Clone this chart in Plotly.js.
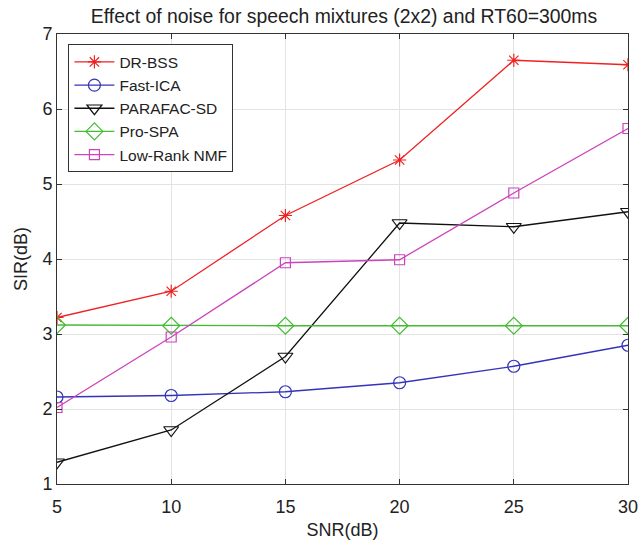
<!DOCTYPE html>
<html>
<head>
<meta charset="utf-8">
<script src="https://cdn.plot.ly/plotly-3.0.1.min.js"></script>
<style>
  html, body { margin: 0; padding: 0; background: #fff; }
  #chart { width: 640px; height: 540px; }
</style>
</head>
<body>
<div id="chart"></div>
<script>
// SNR levels (dB) on the x axis
const snr = [5, 10, 15, 20, 25, 30];
const sirTicks = [1, 2, 3, 4, 5, 6, 7];

// SIR (dB) for each separation method
const drBss     = [3.22, 3.57, 4.58, 5.32, 6.65, 6.59];
const fastIca   = [2.16, 2.18, 2.23, 2.35, 2.57, 2.85];
const parafacSd = [1.29, 1.72, 2.70, 4.48, 4.43, 4.63];
const proSpa    = [3.12, 3.11, 3.11, 3.11, 3.11, 3.11];
const lowRankNmf= [2.02, 2.96, 3.95, 3.99, 4.88, 5.74];

const seriesNames = ['DR-BSS', 'Fast-ICA', 'PARAFAC-SD', 'Pro-SPA', 'Low-Rank NMF'];

const FONT = 'Liberation Sans, Arial, sans-serif';

function line(name, y, color, symbol, size) {
  return {
    x: snr, y: y, name: name, type: 'scatter', mode: 'lines+markers',
    line: { color: color, width: 1.3 },
    marker: { symbol: symbol, size: size, color: color, line: { color: color, width: 1.2 } }
  };
}

const traces = [
  line(seriesNames[0], drBss,      '#ee2222', 'asterisk-open',      11),
  line(seriesNames[1], fastIca,    '#3333bb', 'circle-open',        12),
  line(seriesNames[2], parafacSd,  '#111111', 'triangle-down-open', 13),
  line(seriesNames[3], proSpa,     '#44bb33', 'diamond-open',       13),
  line(seriesNames[4], lowRankNmf, '#cc44bb', 'square-open',        10)
];

const axisCommon = {
  showline: true, linecolor: '#333', linewidth: 1, mirror: 'ticks',
  ticks: 'inside', ticklen: 5, tickcolor: '#333',
  showgrid: true, gridcolor: '#e3e3e3', gridwidth: 1,
  zeroline: false, automargin: false,
  tickfont: { family: FONT, size: 18, color: '#222' }
};

const layout = {
  width: 640, height: 540,
  margin: { l: 57, r: 12, t: 34, b: 56 },
  paper_bgcolor: '#fff', plot_bgcolor: '#fff',
  title: {
    text: 'Effect of noise for speech mixtures (2x2) and RT60=300ms',
    font: { family: FONT, size: 19.4, color: '#222' },
    xref: 'container', x: 344 / 640, xanchor: 'center',
    yref: 'container', y: 1 - 16 / 540, yanchor: 'middle'
  },
  xaxis: Object.assign({}, axisCommon, {
    range: [5, 30], tickvals: snr, ticktext: snr.map(String),
    ticklabelstandoff: 6,
    title: { text: 'SNR(dB)', font: { family: FONT, size: 18, color: '#222' }, standoff: 8 }
  }),
  yaxis: Object.assign({}, axisCommon, {
    range: [1, 7], tickvals: sirTicks,
    title: { text: 'SIR(dB)', font: { family: FONT, size: 18, color: '#222' }, standoff: 10 }
  }),
  legend: {
    x: 0.02, y: 0.977, xanchor: 'left', yanchor: 'top',
    bgcolor: '#fff', bordercolor: '#333', borderwidth: 1,
    font: { family: FONT, size: 15.5, color: '#222' },
    tracegroupgap: 0, itemwidth: 40
  },
  showlegend: true
};

Plotly.newPlot('chart', traces, layout, { displayModeBar: false, staticPlot: true });
</script>
</body>
</html>
